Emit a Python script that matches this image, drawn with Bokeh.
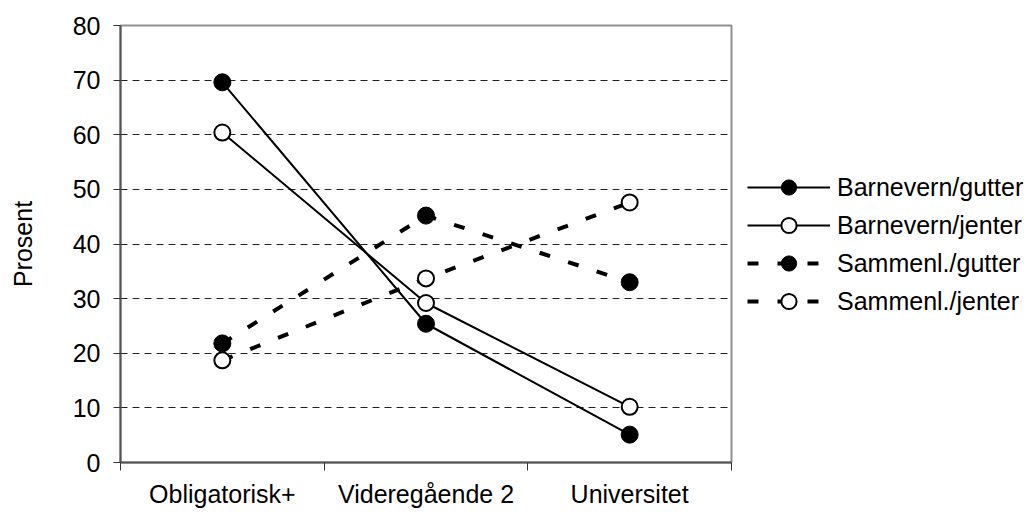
from bokeh.plotting import figure
from bokeh.layouts import row
from bokeh.models import Range1d, FixedTicker, Legend, LegendItem
from bokeh.embed import file_html
from bokeh.resources import INLINE

# ---- data ----
categories = ["Obligatorisk+", "Videregående 2", "Universitet"]
barnevern_gutter = [69.6, 25.4, 5.1]
barnevern_jenter = [60.4, 29.2, 10.2]
sammenl_gutter = [21.8, 45.2, 33.0]
sammenl_jenter = [18.7, 33.7, 47.6]
y_ticks = [0, 10, 20, 30, 40, 50, 60, 70, 80]
y_label = "Prosent"

FONT = "Liberation Sans"
FS = "25px"

n = len(categories)
xs = [i + 0.5 for i in range(n)]

H = 512

p = figure(width=733, height=H,
           x_range=Range1d(0, n), y_range=Range1d(y_ticks[0], y_ticks[-1]),
           output_backend="svg", toolbar_location=None,
           min_border_left=120, min_border_right=2,
           min_border_top=25, min_border_bottom=H - 462)

p.background_fill_color = "white"
p.border_fill_color = "white"
p.outline_line_color = "#909090"
p.outline_line_width = 2

# x axis: labels at category centres, ticks at category boundaries
xa = p.xaxis[0]
xa.ticker = FixedTicker(ticks=xs, minor_ticks=list(range(n + 1)))
xa.major_label_overrides = {x: c for x, c in zip(xs, categories)}
xa.major_tick_line_color = None
xa.major_tick_out = 0
xa.major_tick_in = 0
xa.minor_tick_out = 8
xa.minor_tick_in = 0
xa.minor_tick_line_color = "#333333"
xa.minor_tick_line_width = 1
xa.axis_line_color = "#555555"
xa.axis_line_width = 2
xa.major_label_standoff = 9
xa.major_label_text_font = FONT
xa.major_label_text_font_size = FS
xa.major_label_text_color = "black"

ya = p.yaxis[0]
ya.ticker = FixedTicker(ticks=y_ticks, minor_ticks=[])
ya.major_tick_out = 7
ya.major_tick_in = 0
ya.major_tick_line_color = "#333333"
ya.axis_line_color = "#555555"
ya.axis_line_width = 2
ya.major_label_standoff = 13
ya.major_label_text_font = FONT
ya.major_label_text_font_size = FS
ya.major_label_text_color = "black"
ya.axis_label = y_label
ya.axis_label_text_font = FONT
ya.axis_label_text_font_size = FS
ya.axis_label_text_font_style = "normal"
ya.axis_label_text_color = "black"
ya.axis_label_standoff = 33

p.xgrid.visible = False
p.ygrid.ticker = FixedTicker(ticks=y_ticks[1:-1], minor_ticks=[])
p.ygrid.grid_line_color = "#222222"
p.ygrid.grid_line_width = 1
p.ygrid.grid_line_dash = "7 5"

series = [
    ("Barnevern/gutter", barnevern_gutter, "solid", "black"),
    ("Barnevern/jenter", barnevern_jenter, "solid", "white"),
    ("Sammenl./gutter", sammenl_gutter, "dashed", "black"),
    ("Sammenl./jenter", sammenl_jenter, "dashed", "white"),
]


def line_style(style):
    if style == "solid":
        return dict(line_color="black", line_width=2)
    return dict(line_color="black", line_width=4, line_dash="11 19")


def marker_style(fill):
    if fill == "black":
        return dict(marker="circle", size=17, fill_color="black",
                    line_color="black", line_width=1)
    return dict(marker="circle", size=16, fill_color="white",
                line_color="black", line_width=2)


for name, vals, style, fill in series:
    p.line(xs, vals, **line_style(style))
    p.scatter(xs, vals, **marker_style(fill))

# legend panel: separate canvas so the legend is not clipped by the plot frame.
# Its renderers carry the same data but lie outside this canvas's ranges.
lg = figure(width=302, height=H, x_range=Range1d(-2, -1), y_range=Range1d(-2, -1),
            output_backend="svg", toolbar_location=None,
            x_axis_type=None, y_axis_type=None,
            min_border_left=0, min_border_right=0,
            min_border_top=0, min_border_bottom=0)
lg.outline_line_color = None
lg.background_fill_color = "white"
lg.border_fill_color = "white"
lg.xgrid.visible = False
lg.ygrid.visible = False

items = []
for name, vals, style, fill in series:
    ln = lg.line(xs, vals, **line_style(style))
    sc = lg.scatter(xs, vals, **marker_style(fill))
    items.append(LegendItem(label=name, renderers=[ln, sc]))

legend = Legend(items=items, location=(14, 142), orientation="vertical",
                padding=0, margin=0, spacing=0,
                glyph_width=83, glyph_height=38, label_height=38,
                label_standoff=7, label_text_font=FONT,
                label_text_font_size=FS, label_text_color="black",
                border_line_color=None, background_fill_alpha=0)
lg.add_layout(legend)

layout = row(p, lg, spacing=0)
open("out.html", "w").write(file_html(layout, INLINE))
